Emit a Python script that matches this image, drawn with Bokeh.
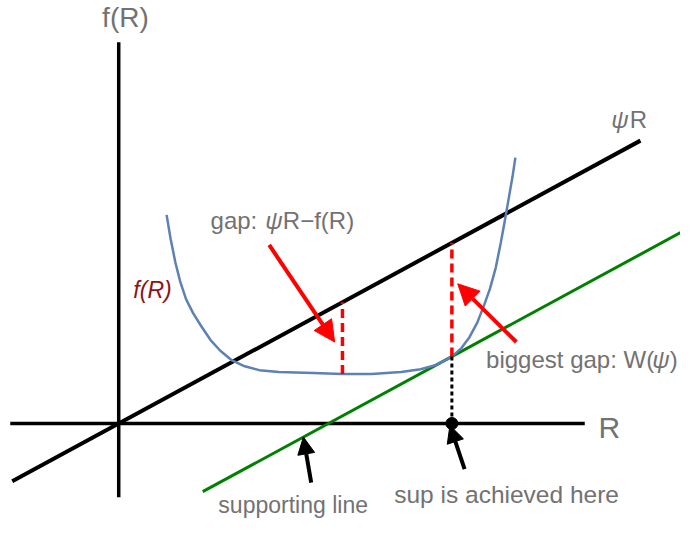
from bokeh.plotting import figure
from bokeh.models import Arrow, NormalHead
from bokeh.core.properties import value
from bokeh.embed import file_html
from bokeh.resources import INLINE

# ---- data (diagram coordinates, origin at the axes crossing) ----
psi = 0.546                      # slope of the line psi*R
R_star = 341                     # where the sup is achieved
f_star = 69                      # f(R_star)
W = psi * R_star - f_star        # biggest gap W(psi)

R_curve = [49, 53, 58, 63, 69, 76, 84, 94, 104, 116, 129, 144, 164, 199, 229, 259,
           289, 309, 324, 334, 341, 351, 359, 367, 374, 380, 386, 391, 395, 399, 403, 406]
f_curve = [215, 191, 166, 146, 128, 114, 101, 86, 75, 65, 59, 55, 53, 52, 51, 51,
           53, 56, 60, 65, 69, 78, 89, 104, 122, 139, 161, 186, 208, 231, 254, 274]

line_R = [-109, 534]             # extent of psi*R line
support_R = [86, 575]            # extent of supporting line
vaxis_y = [-76, 393]
haxis_x = [-111, 477]

gap_R = 229                      # sample gap location
gap_f = 51

red_arrows = [((154, 184), (221, 84)), ((407, 84), (347, 144))]
black_arrows = [((197, -61), (189, -14)), ((354, -47), (339, -2))]

GRAY = "#727272"
FONT = "Liberation Sans"

p = figure(width=680, height=521, x_range=(-121, 575), y_range=(-101, 436),
           output_backend="svg", toolbar_location=None, min_border=0)
p.axis.visible = False
p.grid.visible = False
p.outline_line_color = None
p.background_fill_color = "white"

# axes
p.line([0, 0], vaxis_y, line_color="black", line_width=3.5)
p.line(haxis_x, [0, 0], line_color="black", line_width=3.5)

# psi R line
p.line(line_R, [psi * r for r in line_R], line_color="black", line_width=4)
# supporting line
p.line(support_R, [psi * r - W for r in support_R], line_color="#008000", line_width=3)
# f(R)
p.line(R_curve, f_curve, line_color="#5e81b5", line_width=2.5)

# gaps
p.line([gap_R, gap_R], [gap_f, psi * gap_R], line_color="red", line_width=3.5, line_dash="9 5")
p.line([R_star, R_star], [f_star, psi * R_star], line_color="red", line_width=3.5, line_dash="9 5")
p.line([R_star, R_star], [0, f_star], line_color="black", line_width=3, line_dash="4 3")
p.scatter([R_star], [0], size=12, color="black")

for (x0, y0), (x1, y1) in red_arrows:
    p.add_layout(Arrow(x_start=x0, y_start=y0, x_end=x1, y_end=y1, line_color="red", line_width=4,
                       end=NormalHead(size=21, fill_color="red", line_color="red", line_width=1)))
for (x0, y0), (x1, y1) in black_arrows:
    p.add_layout(Arrow(x_start=x0, y_start=y0, x_end=x1, y_end=y1, line_color="black", line_width=4,
                       end=NormalHead(size=17, fill_color="black", line_color="black", line_width=1)))

def label(x, y, t, size, color=GRAY, style="normal"):
    p.text([x], [y], text=[t], text_font=value(FONT), text_font_size=f"{size}px",
           text_color=color, text_baseline="middle", text_align="left", text_font_style=style)

label(-17, 418, "f(R)", 28)
label(504, 313, "ψ", 24, style="italic")
label(523, 313, "R", 24)
label(94, 209, "gap: ", 24)
label(150, 209, "ψ", 24, style="italic")
label(168, 209, "R\u2212f(R)", 24)
label(15, 138, "f(R)", 23, color="#8b1414", style="italic")
label(376, 66, "biggest gap: W(", 24)
label(546, 66, "ψ", 24, style="italic")
label(564, 66, ")", 24)
label(491, -4, "R", 30)
label(102, -84, "supporting line", 23)
label(282, -73, "sup is achieved here", 24.5)

open("out.html", "w").write(file_html(p, INLINE))
